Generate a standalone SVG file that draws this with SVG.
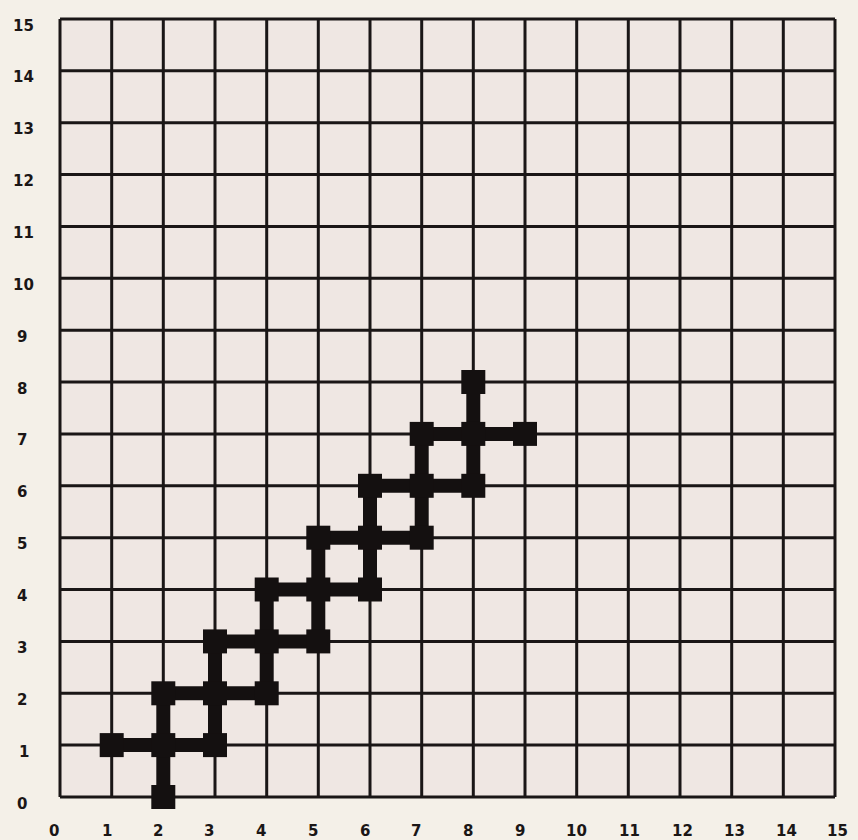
<svg xmlns="http://www.w3.org/2000/svg" width="858" height="840" viewBox="0 0 858 840">
<style>
.bg{fill:#f4f0e8}
.plot{fill:#efe7e3}
.grid{stroke:#1a1616;stroke-width:3;fill:none}
.lbl{font-family:"DejaVu Sans","Liberation Sans",sans-serif;font-weight:bold;font-size:15px;fill:#1a1616;text-anchor:start}
.seg{stroke:#141010;stroke-width:14;stroke-linecap:butt}
.pt{fill:#141010}
</style>
<defs>
<rect id="sq" x="-12" y="-12" width="24" height="24"/>
</defs>
<rect class="bg" x="0" y="0" width="858" height="840"/>
<rect class="plot" x="60" y="19" width="775" height="778"/>
<g id="grid" class="grid">
<path d="M60 19V797M111.7 19V797M163.3 19V797M215 19V797M266.7 19V797M318.3 19V797M370 19V797M421.7 19V797M473.3 19V797M525 19V797M576.7 19V797M628.3 19V797M680 19V797M731.7 19V797M783.3 19V797M835 19V797"/>
<path d="M60 797H835M60 745.1H835M60 693.3H835M60 641.4H835M60 589.5H835M60 537.7H835M60 485.8H835M60 433.9H835M60 382H835M60 330.2H835M60 278.3H835M60 226.4H835M60 174.6H835M60 122.7H835M60 70.8H835M60 19H835"/>
</g>
<g id="y-labels" class="lbl">
<text x="13" y="30.5">15</text>
<text x="13" y="82.3">14</text>
<text x="13" y="134.2">13</text>
<text x="13" y="186.1">12</text>
<text x="13" y="237.9">11</text>
<text x="13" y="289.8">10</text>
<text x="17" y="341.7">9</text>
<text x="17" y="393.5">8</text>
<text x="17" y="445.4">7</text>
<text x="17" y="497.3">6</text>
<text x="17" y="549.2">5</text>
<text x="17" y="601">4</text>
<text x="17" y="652.9">3</text>
<text x="17" y="704.8">2</text>
<text x="19" y="756.6">1</text>
<text x="17" y="808.5">0</text>
</g>
<g id="x-labels" class="lbl">
<text x="49" y="835.5">0</text>
<text x="102" y="835.5">1</text>
<text x="153" y="835.5">2</text>
<text x="204" y="835.5">3</text>
<text x="256" y="835.5">4</text>
<text x="308" y="835.5">5</text>
<text x="360" y="835.5">6</text>
<text x="411" y="835.5">7</text>
<text x="463" y="835.5">8</text>
<text x="515" y="835.5">9</text>
<text x="566" y="835.5">10</text>
<text x="619" y="835.5">11</text>
<text x="672" y="835.5">12</text>
<text x="724" y="835.5">13</text>
<text x="776" y="835.5">14</text>
<text x="827" y="835.5">15</text>
</g>
<g id="connectors" class="seg">
<line x1="111.7" y1="745.1" x2="215" y2="745.1"/>
<line x1="163.3" y1="693.3" x2="266.7" y2="693.3"/>
<line x1="215" y1="641.4" x2="318.3" y2="641.4"/>
<line x1="266.7" y1="589.5" x2="370" y2="589.5"/>
<line x1="318.3" y1="537.7" x2="421.7" y2="537.7"/>
<line x1="370" y1="485.8" x2="473.3" y2="485.8"/>
<line x1="421.7" y1="433.9" x2="525" y2="433.9"/>
<line x1="163.3" y1="797" x2="163.3" y2="693.3"/>
<line x1="215" y1="745.1" x2="215" y2="641.4"/>
<line x1="266.7" y1="693.3" x2="266.7" y2="589.5"/>
<line x1="318.3" y1="641.4" x2="318.3" y2="537.7"/>
<line x1="370" y1="589.5" x2="370" y2="485.8"/>
<line x1="421.7" y1="537.7" x2="421.7" y2="433.9"/>
<line x1="473.3" y1="485.8" x2="473.3" y2="382"/>
</g>
<g id="points" class="pt">
<use href="#sq" x="163.3" y="797"/>
<use href="#sq" x="111.7" y="745.1"/>
<use href="#sq" x="163.3" y="745.1"/>
<use href="#sq" x="215" y="745.1"/>
<use href="#sq" x="163.3" y="693.3"/>
<use href="#sq" x="215" y="693.3"/>
<use href="#sq" x="266.7" y="693.3"/>
<use href="#sq" x="215" y="641.4"/>
<use href="#sq" x="266.7" y="641.4"/>
<use href="#sq" x="318.3" y="641.4"/>
<use href="#sq" x="266.7" y="589.5"/>
<use href="#sq" x="318.3" y="589.5"/>
<use href="#sq" x="370" y="589.5"/>
<use href="#sq" x="318.3" y="537.7"/>
<use href="#sq" x="370" y="537.7"/>
<use href="#sq" x="421.7" y="537.7"/>
<use href="#sq" x="370" y="485.8"/>
<use href="#sq" x="421.7" y="485.8"/>
<use href="#sq" x="473.3" y="485.8"/>
<use href="#sq" x="421.7" y="433.9"/>
<use href="#sq" x="473.3" y="433.9"/>
<use href="#sq" x="525" y="433.9"/>
<use href="#sq" x="473.3" y="382"/>
</g>
</svg>
